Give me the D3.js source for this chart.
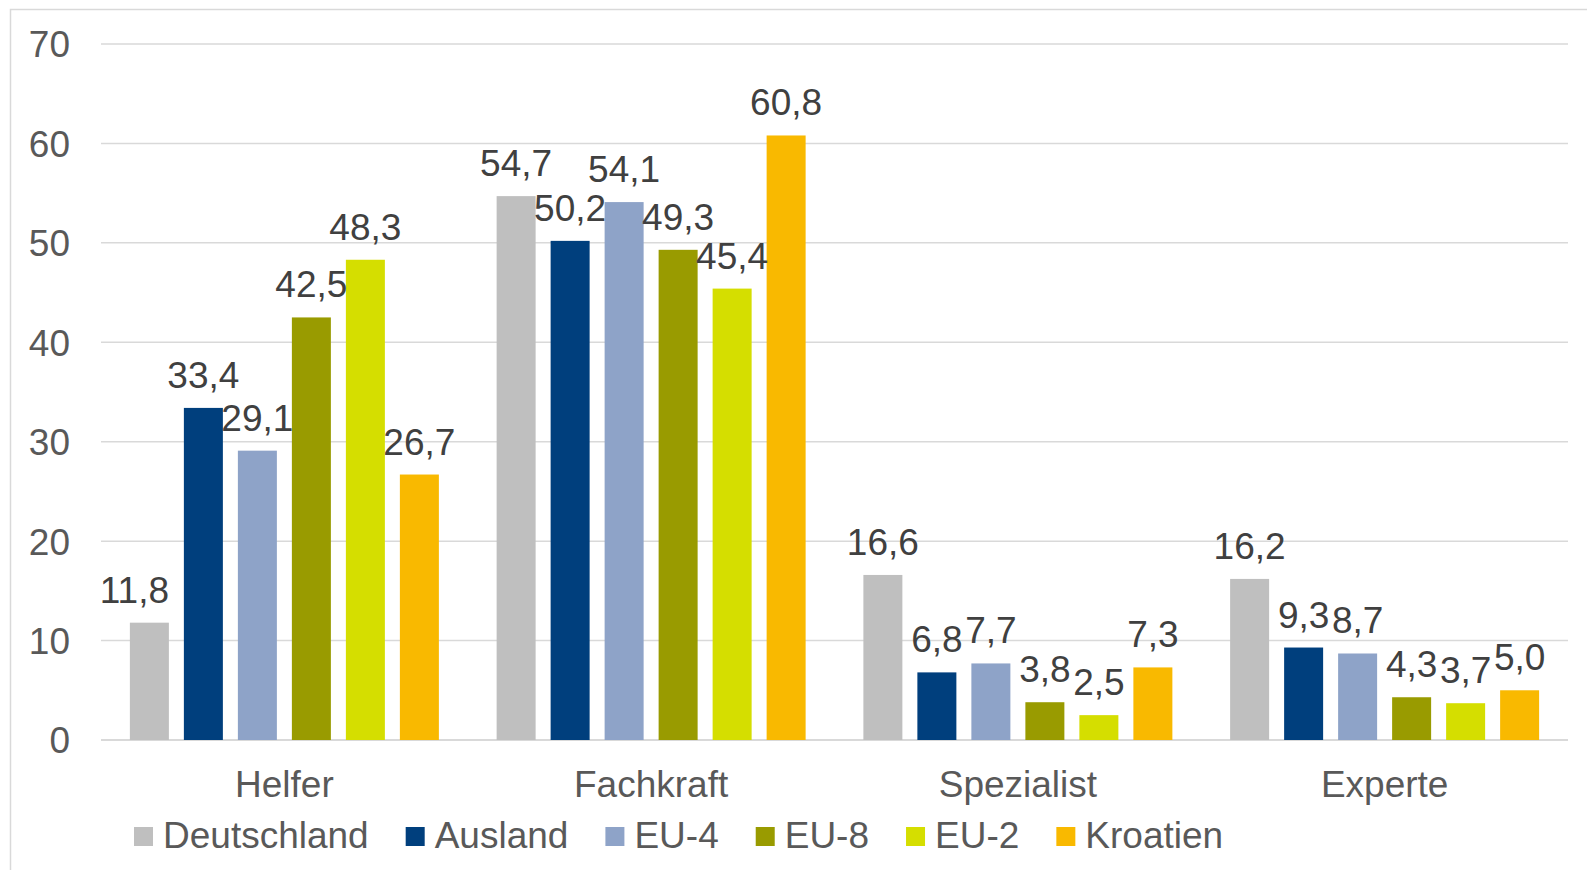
<!DOCTYPE html>
<html lang="de">
<head>
<meta charset="utf-8">
<script src="https://cdn.jsdelivr.net/npm/d3@7"></script>
<style>
  html, body { margin: 0; padding: 0; background: #ffffff; }
  svg { display: block; font-family: "Liberation Sans", Arial, sans-serif; }
</style>
</head>
<body>
<svg id="chart" width="1587" height="870"></svg>
<script>
// Qualifikationsniveau nach Herkunft (Anteile in %)
const categories = ["Helfer", "Fachkraft", "Spezialist", "Experte"];
const seriesNames = ["Deutschland", "Ausland", "EU-4", "EU-8", "EU-2", "Kroatien"];
const seriesColors = ["#bfbfbf", "#003f7d", "#8ea3c8", "#999b00", "#d5de00", "#f9b900"];

const deutschland = [11.8, 54.7, 16.6, 16.2];
const ausland     = [33.4, 50.2, 6.8, 9.3];
const eu4         = [29.1, 54.1, 7.7, 8.7];
const eu8         = [42.5, 49.3, 3.8, 4.3];
const eu2         = [48.3, 45.4, 2.5, 3.7];
const kroatien    = [26.7, 60.8, 7.3, 5.0];

const yTicks = [0, 10, 20, 30, 40, 50, 60, 70];

const seriesValues = [deutschland, ausland, eu4, eu8, eu2, kroatien];

const svg = d3.select("#chart");
const plot = { left: 101, right: 1568, top: 44, bottom: 740 };
const fontSize = 37;
const axisColor = "#595959";
const labelColor = "#404040";
const gridColor = "#d9d9d9";

// Chart area frame
svg.append("rect")
  .attr("x", 10.5).attr("y", 9.5)
  .attr("width", 1650).attr("height", 900)
  .attr("fill", "#ffffff")
  .attr("stroke", gridColor).attr("stroke-width", 1.5);

const y = d3.scaleLinear().domain([0, 70]).range([plot.bottom, plot.top]);
const x0 = d3.scaleBand().domain(categories).range([plot.left, plot.right]);
const groupWidth = 309;
const x1 = d3.scaleBand().domain(seriesNames)
  .range([0, groupWidth]).paddingInner(15 / 54);
const groupOffset = (x0.bandwidth() - groupWidth) / 2;

// Horizontal gridlines
svg.append("g").selectAll("line")
  .data(yTicks)
  .join("line")
  .attr("x1", plot.left).attr("x2", plot.right)
  .attr("y1", d => y(d)).attr("y2", d => y(d))
  .attr("stroke", gridColor)
  .attr("stroke-width", d => d === 0 ? 2 : 1.5);

// Y axis tick labels
const yAxis = d3.axisLeft(y).tickValues(yTicks).tickSize(0).tickPadding(0);
const yAxisG = svg.append("g")
  .attr("transform", `translate(70,0)`)
  .call(yAxis);
yAxisG.select(".domain").remove();
yAxisG.selectAll("text")
  .attr("fill", axisColor)
  .style("font-size", fontSize + "px")
  .style("font-family", '"Liberation Sans", Arial, sans-serif')
  .attr("dy", "0.35em");

// Category axis labels
const xAxis = d3.axisBottom(x0).tickSize(0).tickPadding(0);
const xAxisG = svg.append("g")
  .attr("transform", `translate(0,${plot.bottom})`)
  .call(xAxis);
xAxisG.select(".domain").remove();
xAxisG.selectAll("text")
  .attr("fill", axisColor)
  .style("font-size", fontSize + "px")
  .style("font-family", '"Liberation Sans", Arial, sans-serif')
  .attr("y", 57).attr("dy", 0);

// Bars
const records = [];
seriesNames.forEach((s, si) => {
  categories.forEach((c, ci) => {
    records.push({ series: s, cat: c, value: seriesValues[si][ci], color: seriesColors[si] });
  });
});

const barsG = svg.append("g");
barsG.selectAll("rect")
  .data(records)
  .join("rect")
  .attr("x", d => x0(d.cat) + groupOffset + x1(d.series))
  .attr("y", d => y(d.value))
  .attr("width", x1.bandwidth())
  .attr("height", d => y(0) - y(d.value))
  .attr("fill", d => d.color);

// Value labels above the bars; the first label is pulled left so it
// does not run into the neighbouring bar
const fmt = v => v.toFixed(1).replace(".", ",");
const labelNudge = { "Helfer|Deutschland": -15 };
const labelsG = svg.append("g");
labelsG.selectAll("text")
  .data(records)
  .join("text")
  .attr("text-anchor", "middle")
  .attr("fill", labelColor)
  .style("font-size", fontSize + "px")
  .attr("y", d => y(d.value) - 20)
  .text(d => fmt(d.value))
  .attr("x", function (d) {
    const cx = x0(d.cat) + groupOffset + x1(d.series) + x1.bandwidth() / 2
      + (labelNudge[d.cat + "|" + d.series] || 0);
    const w = this.getComputedTextLength();
    return Math.min(Math.max(cx, plot.left + w / 2 - 2), plot.right - w / 2);
  });

// Legend
const legendG = svg.append("g");
let lx = 134;
seriesNames.forEach((s, i) => {
  legendG.append("rect")
    .attr("x", lx).attr("y", 827)
    .attr("width", 19).attr("height", 19)
    .attr("fill", seriesColors[i]);
  const t = legendG.append("text")
    .attr("x", lx + 29).attr("y", 848)
    .attr("fill", axisColor)
    .style("font-size", fontSize + "px")
    .text(s);
  lx = lx + 29 + t.node().getComputedTextLength() + 37;
});
</script>
</body>
</html>
